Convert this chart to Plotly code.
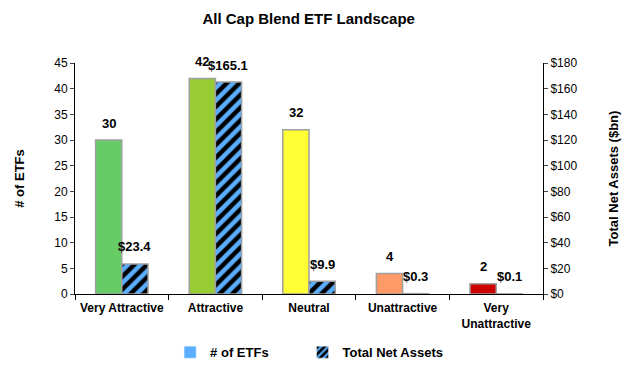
import plotly.graph_objects as go

categories = ["Very Attractive", "Attractive", "Neutral", "Unattractive", "Very<br>Unattractive"]
num_etfs = [30, 42, 32, 4, 2]
total_net_assets = [23.4, 165.1, 9.9, 0.3, 0.1]
etf_colors = ["#66cc66", "#99cc33", "#ffff33", "#ff9966", "#cc0000"]
left_ticks = list(range(0, 50, 5))
right_ticks = list(range(0, 200, 20))

font_family = "Liberation Sans, Arial, sans-serif"
stripe_blue = "#5aaeff"

fig = go.Figure()
fig.add_trace(go.Bar(
    x=categories, y=num_etfs, name="# of ETFs", showlegend=False,
    marker=dict(color=etf_colors, line=dict(color="#a0a0a0", width=1.5)),
    offsetgroup="a", yaxis="y",
))
fig.add_trace(go.Bar(
    x=categories, y=total_net_assets, name="Total Net Assets", showlegend=False,
    marker=dict(color="#000000", line=dict(color="#a0a0a0", width=1.5),
                pattern=dict(shape="/", bgcolor="#000000", fgcolor=stripe_blue,
                             fgopacity=1, size=9, solidity=0.5)),
    offsetgroup="b", yaxis="y2",
))
# legend-only entries on hidden axes
fig.add_trace(go.Bar(x=[None], y=[None], name="<b># of ETFs</b>" + "&nbsp;" * 8,
                     xaxis="x2", yaxis="y3", marker=dict(color=stripe_blue)))
fig.add_trace(go.Bar(x=[None], y=[None], name="<b>Total Net Assets</b>", xaxis="x2", yaxis="y3",
                     marker=dict(color="#000000",
                                 pattern=dict(shape="/", bgcolor="#000000", fgcolor=stripe_blue,
                                              fgopacity=1, size=6, solidity=0.45))))

for c, v in zip(categories, num_etfs):
    fig.add_annotation(x=c, y=v, yref="y", text=f"<b>{v}</b>", showarrow=False,
                       xshift=-13, yshift=17, font=dict(size=13, color="black", family=font_family))
for c, v in zip(categories, total_net_assets):
    fig.add_annotation(x=c, y=v, yref="y2", text=f"<b>${v:.1f}</b>", showarrow=False,
                       xshift=13, yshift=17, font=dict(size=13, color="black", family=font_family))

fig.update_layout(
    width=630, height=368,
    margin=dict(l=75, r=87, t=63, b=74, autoexpand=False),
    paper_bgcolor="white", plot_bgcolor="white",
    font=dict(family=font_family, size=12, color="black"),
    title=dict(text="<b>All Cap Blend ETF Landscape</b>", x=0.49, xanchor="center",
               y=0.95, yanchor="middle", font=dict(size=15)),
    barmode="group", bargap=0.44, bargroupgap=0,
    showlegend=True,
    legend=dict(orientation="h", xref="container", x=0.27, xanchor="left",
                yref="container", y=0.043, yanchor="middle",
                font=dict(size=13), itemwidth=30, traceorder="normal", tracegroupgap=0),
    xaxis=dict(showline=True, linecolor="black", linewidth=1, ticks="outside",
               tickson="boundaries", ticklen=5, tickcolor="black",
               tickfont=dict(size=12), showgrid=False, domain=[0, 1],
               ticktext=[f"<b>{c}</b>" for c in categories], tickvals=categories,
               ticklabelstandoff=3),
    xaxis2=dict(visible=False, overlaying="x"),
    yaxis=dict(range=[0, 45], tickvals=left_ticks, showline=True, linecolor="black",
               ticks="outside", ticklen=4, showgrid=False, zeroline=False,
               title=dict(text="<b># of ETFs</b>", font=dict(size=13), standoff=26),
               tickfont=dict(size=12)),
    yaxis2=dict(range=[0, 180], tickvals=right_ticks, ticktext=[f"${t}" for t in right_ticks],
                overlaying="y", side="right", showline=True, linecolor="black",
                ticks="outside", ticklen=4, showgrid=False, zeroline=False,
                title=dict(text="<b>Total Net Assets ($bn)</b>", font=dict(size=13), standoff=32),
                tickfont=dict(size=12)),
    yaxis3=dict(visible=False, overlaying="y"),
)

fig.write_html("out.html", config={"displayModeBar": False},
               post_script="document.body.style.margin='0';")
